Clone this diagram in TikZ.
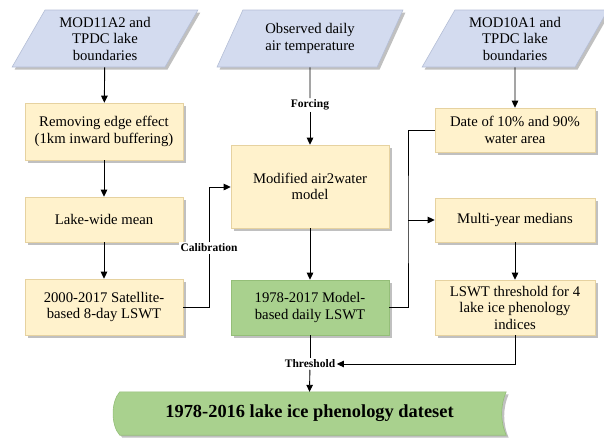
\documentclass[tikz,border=0pt]{standalone}
\usepackage{fontspec}
\setmainfont{Liberation Serif}
\usetikzlibrary{shapes.geometric,arrows.meta,shadows,calc}
\definecolor{boxyellow}{HTML}{FFF2CC}
\definecolor{boxyellowline}{HTML}{E6D2A0}
\definecolor{boxblue}{HTML}{D3DBEF}
\definecolor{boxblueline}{HTML}{B4BED6}
\definecolor{boxgreen}{HTML}{A9D18E}
\definecolor{boxgreenline}{HTML}{94BE78}
\tikzset{
  shad/.style={drop shadow={shadow xshift=2.5pt,shadow yshift=-2.5pt,fill=black!45,opacity=0.55}},
  procbox/.style={rectangle,draw=boxyellowline,fill=boxyellow,line width=0.6pt,shad,
    align=center,font=\fontsize{14.7}{16.5}\selectfont,inner sep=2pt},
  greenbox/.style={procbox,draw=boxgreenline,fill=boxgreen},
  databox/.style={trapezium,trapezium left angle=60,trapezium right angle=120,
    trapezium stretches=true,draw=boxblueline,fill=boxblue,line width=0.6pt,shad,
    minimum width=186pt,minimum height=57pt,align=center,
    font=\fontsize{14.7}{16.5}\selectfont,inner sep=0pt},
  conn/.style={line width=0.9pt,draw=black},
  arr/.style={conn,-{Triangle[length=7pt,width=6.5pt]}},
  lbl/.style={fill=white,font=\bfseries\fontsize{11.5}{13}\selectfont,inner sep=1.5pt}
}
\begin{document}
\begin{tikzpicture}[x=1pt,y=-1pt]
\useasboundingbox (0,0) rectangle (604,437);
% input data
\node[databox] (in1) at (105,38.5) {MOD11A2 and\\TPDC lake\\boundaries};
\node[databox] (in2) at (310,38.5) {Observed daily\\air temperature};
\node[databox] (in3) at (515,38.5) {MOD10A1 and\\TPDC lake\\boundaries};
% left column
\node[procbox,minimum width=158pt,minimum height=57pt] (rem) at (104,131.5) {Removing edge effect\\(1km inward buffering)};
\node[procbox,minimum width=158pt,minimum height=45pt] (lwm) at (104,219.5) {Lake-wide mean};
\node[procbox,minimum width=158pt,minimum height=56pt] (sat) at (104,307) {2000-2017 Satellite-\\based 8-day LSWT};
% middle column
\node[procbox,minimum width=158pt,minimum height=83pt] (mod) at (310,186.5) {Modified air2water\\model};
\node[greenbox,minimum width=158pt,minimum height=55pt] (mlswt) at (310,307.5) {1978-2017 Model-\\based daily LSWT};
% right column
\node[procbox,minimum width=160pt,minimum height=44pt] (date) at (515,130) {Date of 10\% and 90\%\\water area};
\node[procbox,minimum width=160pt,minimum height=44pt] (med) at (515,220) {Multi-year medians};
\node[procbox,minimum width=160pt,minimum height=55pt] (thr) at (515,307.5) {LSWT threshold for 4\\lake ice phenology\\indices};
% final output
\node[minimum width=393pt,minimum height=43pt,inner sep=0pt] (fin) at (309.5,413.5) {};
\path[fill=boxgreen,draw=boxgreenline,line width=0.6pt,shad]
  ($(fin.north west)+(7,0)$) -- (fin.north east)
  .. controls ($(fin.north east)+(-6,13)$) and ($(fin.south east)+(-6,-13)$) .. (fin.south east)
  -- ($(fin.south west)+(7,0)$)
  .. controls ($(fin.south west)+(-2,-10)$) and ($(fin.north west)+(-2,10)$) .. ($(fin.north west)+(7,0)$) -- cycle;
\node[font=\bfseries\fontsize{18.4}{20}\selectfont] (fintext) at (fin.center) {1978-2016 lake ice phenology dateset};
% labels
\node[lbl] (forcing) at (310,105) {Forcing};
\node[lbl] (calib) at (209,248) {Calibration};
\node[lbl] (thresh) at (310,364) {Threshold};
\coordinate (calx) at (209,187);
\coordinate (jx) at (408,220);
% connectors
\draw[arr] (in1) -- (rem);
\draw[arr] (rem) -- (lwm);
\draw[arr] (lwm) -- (sat);
\draw[conn] (in2) -- (forcing);
\draw[arr] (forcing) -- (mod);
\draw[arr] (mod) -- (mlswt);
\draw[arr] (in3) -- (date);
\draw[arr] (med) -- (thr);
\draw[conn] (sat.east) -| (calib.south);
\draw[arr] (calib.north) |- (mod.west |- calx);
\draw[conn] (mlswt.east) -| (jx) |- (date.west);
\draw[arr] (jx) -- (med.west);
\draw[conn] (mlswt) -- (thresh);
\draw[arr] (thr.south) |- (thresh.east);
\draw[arr] (thresh) -- (fin.north);
\end{tikzpicture}
\end{document}
